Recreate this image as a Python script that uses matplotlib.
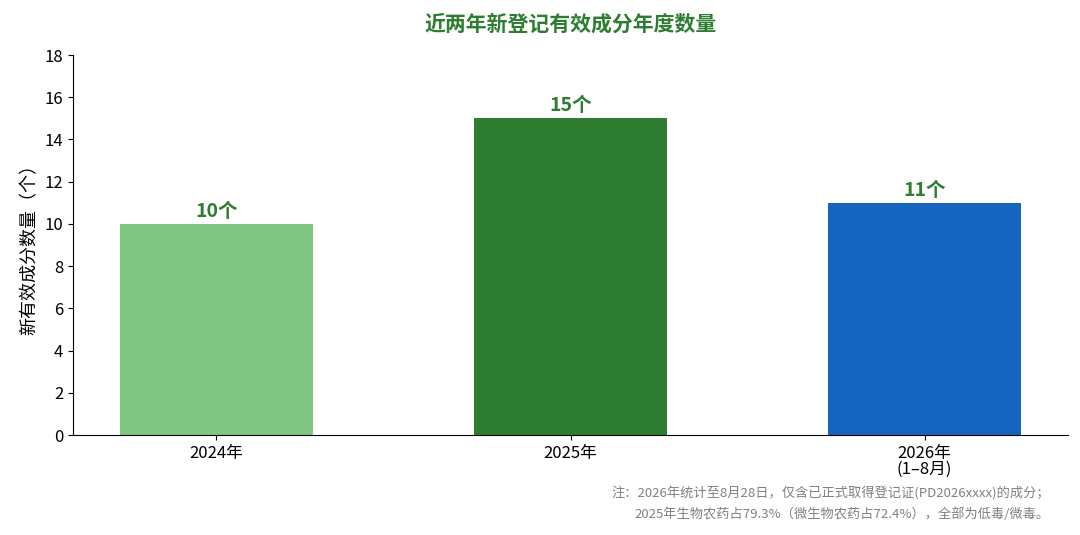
import matplotlib
matplotlib.use("Agg")
import matplotlib.pyplot as plt

plt.rcParams['font.family'] = ['Noto Sans CJK SC', 'DejaVu Sans']

categories = ["2024年", "2025年", "2026年\n(1–8月)"]
values = [10, 15, 11]
labels = ["10个", "15个", "11个"]
colors = ["#81C784", "#2E7D32", "#1565C0"]

fig = plt.figure(figsize=(10.8, 5.35), dpi=100)
ax = fig.add_axes([73/1080, 1-435/535, (1068-73)/1080, (435-55)/535])
x = range(len(categories))
ax.bar(x, values, width=0.545, color=colors)
for xi, v, lb in zip(x, values, labels):
    ax.text(xi, v + 0.15, lb, ha='center', va='bottom', fontsize=14,
            fontweight='bold', color="#2E7D32")
ax.set_xlim(-0.405, 2.405)
ax.set_ylim(0, 18)
ax.set_yticks(range(0, 19, 2))
ax.set_xticks(list(x))
ax.set_xticklabels(categories, fontsize=12, linespacing=0.95)
ax.tick_params(axis='y', labelsize=12)
ax.set_ylabel("新有效成分数量（个）", fontsize=13)
ax.spines['top'].set_visible(False)
ax.spines['right'].set_visible(False)
fig.text(571/1080, 1-24/535, "近两年新登记有效成分年度数量", ha='center', va='center',
         fontsize=15, fontweight='bold', color="#2E7D32")
fig.text(1050/1080, 1-493/535, "注：2026年统计至8月28日，仅含已正式取得登记证(PD2026xxxx)的成分；",
         ha='right', va='center', fontsize=9.5, color="#808080")
fig.text(1050/1080, 1-514/535, "2025年生物农药占79.3%（微生物农药占72.4%），全部为低毒/微毒。",
         ha='right', va='center', fontsize=9.5, color="#808080")
fig.savefig("out.png", dpi=100)
